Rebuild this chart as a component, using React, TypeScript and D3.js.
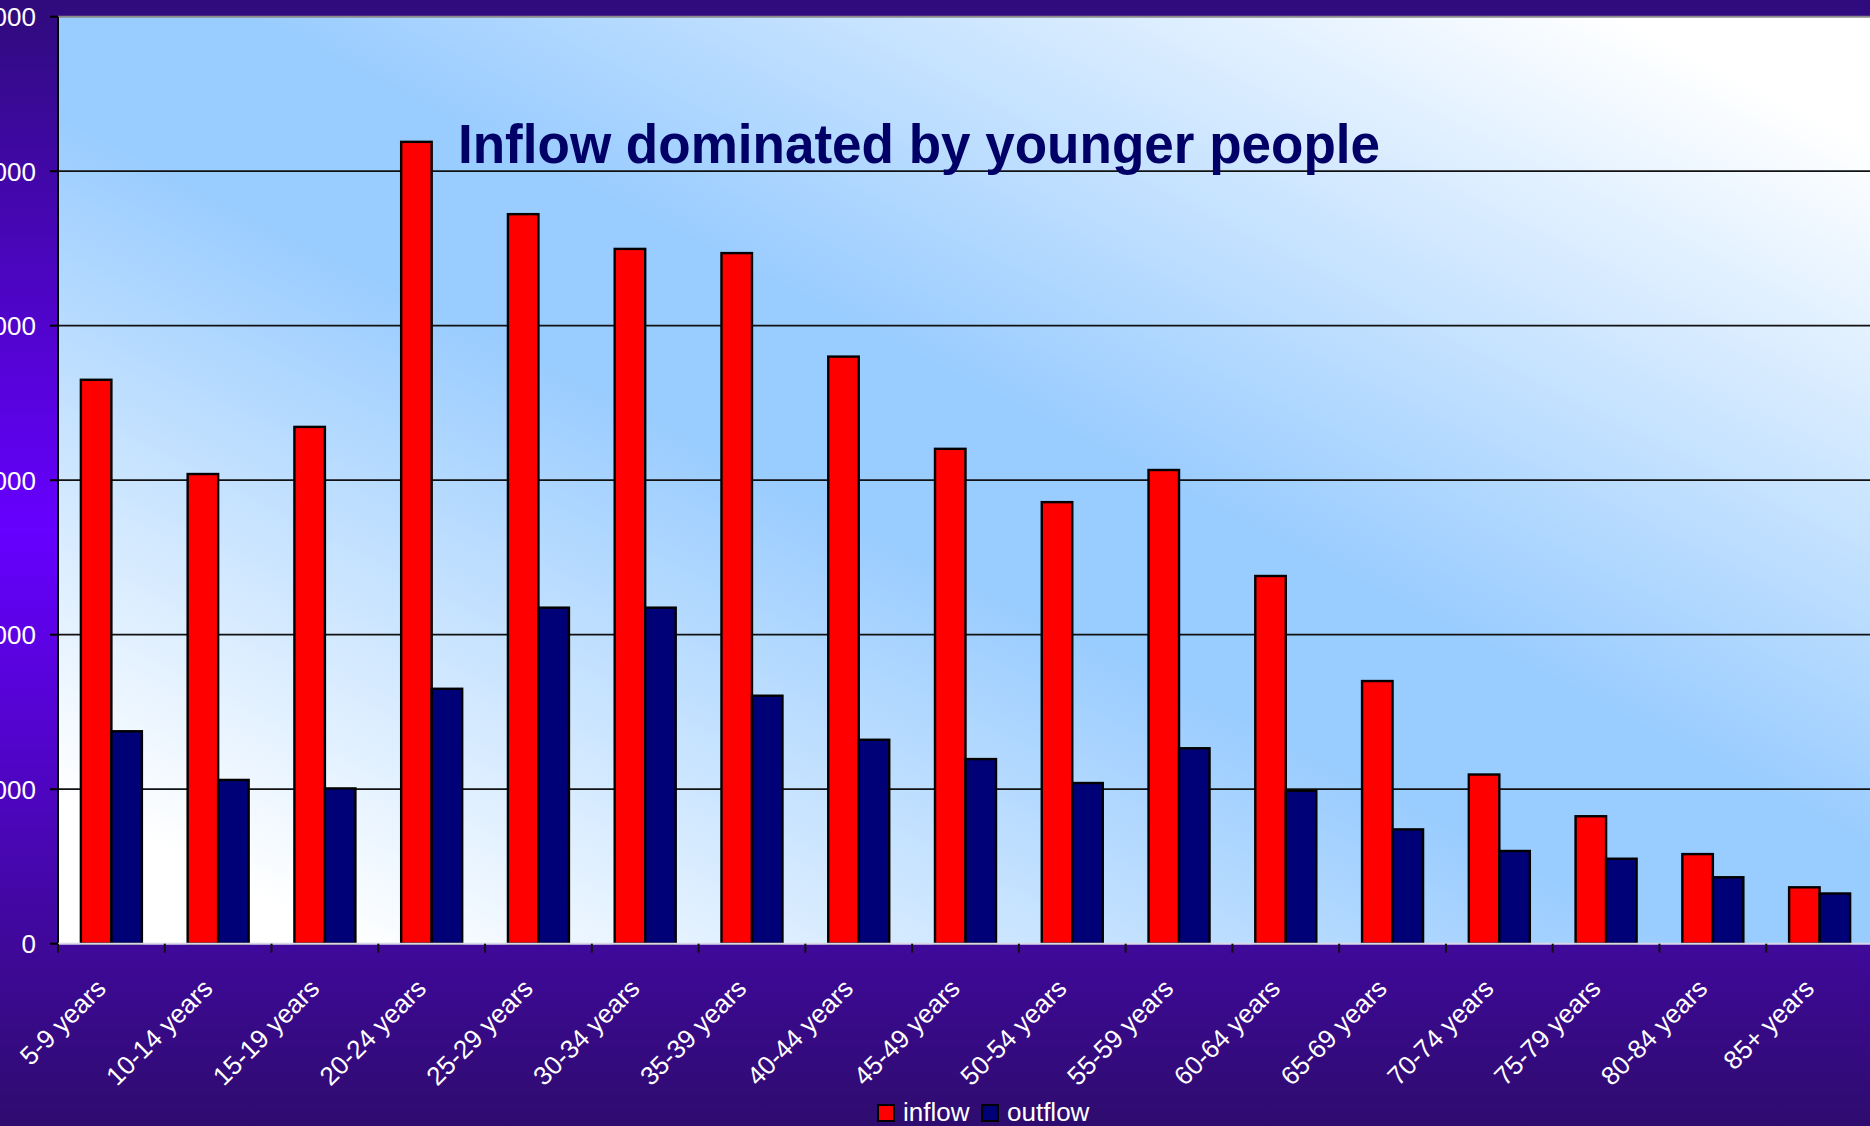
// @ts-nocheck
import { useEffect, useRef } from 'react';
import * as d3 from 'd3';

const categories = [
  '5-9 years', '10-14 years', '15-19 years', '20-24 years', '25-29 years', '30-34 years',
  '35-39 years', '40-44 years', '45-49 years', '50-54 years', '55-59 years', '60-64 years',
  '65-69 years', '70-74 years', '75-79 years', '80-84 years', '85+ years'
];
const inflow = [3650, 3040, 3345, 5190, 4722, 4497, 4470, 3800, 3203, 2858, 3066, 2380, 1700, 1095, 825, 580, 365];
const outflow = [1375, 1060, 1005, 1650, 2175, 2175, 1605, 1320, 1195, 1040, 1265, 990, 740, 600, 550, 430, 325];
const yTicks = [0, 1000, 2000, 3000, 4000, 5000, 6000];
const seriesNames = ['inflow', 'outflow'];
const seriesColors = ['#ff0000', '#000077'];

const W = 1870;
const H = 1126;

export default function App() {
  const svgRef = useRef<SVGSVGElement>(null);

  useEffect(() => {
    if (!svgRef.current) return;
    const svg = d3.select(svgRef.current);
    svg.selectAll('*').remove();

    const left = 58;
    const right = 1873;
    const top = 16.7;
    const bottom = 943.7;

    const defs = svg.append('defs');

    // purple slide background
    const bg = defs.append('linearGradient').attr('id', 'bg').attr('x1', 0).attr('y1', 0).attr('x2', 0).attr('y2', 1);
    bg.append('stop').attr('offset', '0%').attr('stop-color', '#2f0b7c');
    bg.append('stop').attr('offset', '47%').attr('stop-color', '#6600ff');
    bg.append('stop').attr('offset', '100%').attr('stop-color', '#2e0c6e');

    // diagonal plot area fill: white corners, blue band from top-left to bottom-right
    const pg = defs.append('linearGradient').attr('id', 'plotbg').attr('x1', 0).attr('y1', 1).attr('x2', 1).attr('y2', 0);
    [[0, '#ffffff'], [0.08, '#ffffff'], [0.45, '#99ccff'], [0.55, '#99ccff'], [0.93, '#ffffff'], [1, '#ffffff']]
      .forEach(([o, c]) => pg.append('stop').attr('offset', o).attr('stop-color', c));

    svg.append('rect').attr('width', W).attr('height', H).attr('fill', 'url(#bg)');

    const x0 = d3.scaleBand().domain(categories).range([left, right]).paddingInner(0).paddingOuter(0);
    const band = x0.bandwidth();
    const barW = band / 3.5;
    const x1 = d3.scaleBand().domain(seriesNames).range([0.75 * barW, 2.75 * barW]).padding(0);
    const y = d3.scaleLinear().domain([0, 6000]).range([bottom, top]);

    svg.append('rect')
      .attr('x', left).attr('y', top)
      .attr('width', right - left).attr('height', bottom - top)
      .attr('fill', 'url(#plotbg)');

    // top border of plot area
    svg.append('line').attr('x1', left).attr('x2', right).attr('y1', top).attr('y2', top)
      .attr('stroke', '#8a8a8a').attr('stroke-width', 2);

    // gridlines
    svg.append('g').selectAll('line').data(yTicks.filter((d) => d > 0 && d < 6000)).join('line')
      .attr('x1', left).attr('x2', right)
      .attr('y1', (d) => y(d)).attr('y2', (d) => y(d))
      .attr('stroke', '#111').attr('stroke-width', 1.8);

    // y ticks and labels
    const yAxis = svg.append('g');
    yAxis.selectAll('line').data(yTicks).join('line')
      .attr('x1', left - 8).attr('x2', left)
      .attr('y1', (d) => y(d)).attr('y2', (d) => y(d))
      .attr('stroke', '#000').attr('stroke-width', 2);
    yAxis.selectAll('text').data(yTicks).join('text')
      .attr('x', 36).attr('y', (d) => y(d)).attr('dy', '0.36em')
      .attr('text-anchor', 'end')
      .attr('fill', '#fff')
      .attr('font-family', 'Liberation Sans, Arial, sans-serif')
      .attr('font-size', 26)
      .text((d) => d);

    // bars
    const groups = svg.append('g').selectAll('g').data(categories).join('g')
      .attr('transform', (d) => `translate(${x0(d)},0)`);
    groups.selectAll('rect')
      .data((d, i) => [inflow[i], outflow[i]].map((v, j) => ({ key: seriesNames[j], v, color: seriesColors[j] })))
      .join('rect')
      .attr('x', (d) => x1(d.key))
      .attr('y', (d) => y(d.v))
      .attr('width', x1.bandwidth())
      .attr('height', (d) => y(0) - y(d.v))
      .attr('fill', (d) => d.color)
      .attr('stroke', '#000').attr('stroke-width', 2.4);

    // axes lines
    svg.append('line').attr('x1', left).attr('x2', left).attr('y1', top).attr('y2', bottom)
      .attr('stroke', '#000').attr('stroke-width', 2);
    svg.append('line').attr('x1', left).attr('x2', right).attr('y1', bottom).attr('y2', bottom)
      .attr('stroke', '#d8d8e8').attr('stroke-width', 2);

    // category ticks
    svg.append('g').selectAll('line').data(d3.range(categories.length + 1)).join('line')
      .attr('x1', (i) => left + i * band).attr('x2', (i) => left + i * band)
      .attr('y1', bottom).attr('y2', bottom + 9)
      .attr('stroke', '#111').attr('stroke-width', 2);

    // category labels
    svg.append('g').selectAll('text').data(categories).join('text')
      .attr('transform', (d) => `translate(${x0(d) + band / 2 - 4},990) rotate(-45)`)
      .attr('text-anchor', 'end')
      .attr('fill', '#fff')
      .attr('font-family', 'Liberation Sans, Arial, sans-serif')
      .attr('font-size', 26)
      .text((d) => d);

    // title
    svg.append('text')
      .attr('x', 458).attr('y', 163)
      .attr('fill', '#000066')
      .attr('font-family', 'Liberation Sans, Arial, sans-serif')
      .attr('font-size', 56)
      .attr('font-weight', 'bold')
      .attr('textLength', 922)
      .attr('lengthAdjust', 'spacingAndGlyphs')
      .text('Inflow dominated by younger people');

    // legend
    const legendPos = [878, 982];
    const legend = svg.append('g').selectAll('g').data(seriesNames).join('g')
      .attr('transform', (d, i) => `translate(${legendPos[i]},1105)`);
    legend.append('rect')
      .attr('width', 16).attr('height', 16)
      .attr('fill', (d, i) => seriesColors[i])
      .attr('stroke', '#000').attr('stroke-width', 2);
    legend.append('text')
      .attr('x', 25).attr('y', 16)
      .attr('fill', '#fff')
      .attr('font-family', 'Liberation Sans, Arial, sans-serif')
      .attr('font-size', 26)
      .text((d) => d);
  }, []);

  return (
    <div style={{ position: 'fixed', left: 0, top: 0, width: W, height: H, overflow: 'hidden' }}>
      <svg ref={svgRef} width={W} height={H} style={{ display: 'block' }} />
    </div>
  );
}
